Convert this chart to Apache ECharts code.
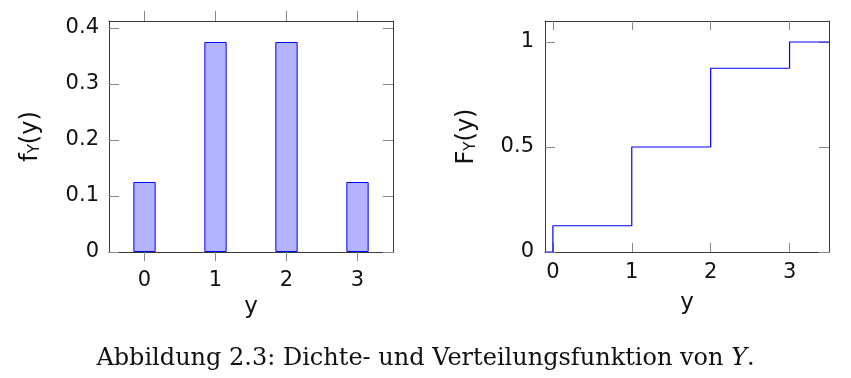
<!DOCTYPE html>
<html>
<head>
<meta charset="utf-8">
<script src="https://cdn.jsdelivr.net/npm/echarts@6/dist/echarts.min.js"></script>
<style>
html,body{margin:0;padding:0;background:#fff;}
#c{width:851px;height:378px;}
</style>
</head>
<body>
<div id="c"></div>
<script>
// ---- data ----
var categories = ['0', '1', '2', '3'];
var pmfValues = [0.125, 0.375, 0.375, 0.125];
var pmfTicks = [0, 0.1, 0.2, 0.3, 0.4];
var cdfX = [-0.1, 0, 1, 2, 3, 3.5];
var cdfY = [0, 0.125, 0.5, 0.875, 1, 1];
var cdfXTicks = [0, 1, 2, 3];
var cdfYTicks = [0, 0.5, 1];
var captionMain = 'Abbildung 2.3: Dichte- und Verteilungsfunktion von ';
var captionVar = 'Y';

var FONT = 'DejaVu Sans';
var frameColor = '#3a3a3a';
var tickColor = '#8a8a8a';
var labelStyle = {color: '#111', fontFamily: FONT, fontSize: 21};

function fmt(v) { return String(Math.round(v * 1000) / 1000); }

function nameRich() {
  return {
    a: {fontFamily: FONT, fontSize: 24, color: '#111'},
    s: {fontFamily: FONT, fontSize: 15, color: '#111', padding: [9, 0, 0, 0]}
  };
}

var chart = echarts.init(document.getElementById('c'), null, {renderer: 'canvas'});

var option = {
  animation: false,
  backgroundColor: '#fff',
  grid: [
    {left: 109, top: 21, width: 284, height: 231},
    {left: 545, top: 21, width: 284, height: 231}
  ],
  xAxis: [
    { // left bottom
      type: 'category', gridIndex: 0, data: categories, position: 'bottom',
      boundaryGap: true,
      axisLine: {show: true, onZero: false, lineStyle: {color: frameColor, width: 1}},
      axisTick: {show: true, alignWithLabel: true, inside: false, length: 9, lineStyle: {color: tickColor}},
      axisLabel: Object.assign({margin: 18}, labelStyle),
      splitLine: {show: false},
      name: 'y', nameLocation: 'middle', nameGap: 38,
      nameTextStyle: {fontFamily: FONT, fontSize: 23, color: '#111'}
    },
    { // left top
      type: 'category', gridIndex: 0, data: categories, position: 'top',
      boundaryGap: true,
      axisLine: {show: true, onZero: false, lineStyle: {color: frameColor, width: 1}},
      axisTick: {show: true, alignWithLabel: true, inside: false, length: 10, lineStyle: {color: tickColor}},
      axisLabel: {show: false},
      splitLine: {show: false}
    },
    { // right bottom
      type: 'value', gridIndex: 1, min: -0.1, max: 3.5, position: 'bottom',
      axisLine: {show: true, onZero: false, lineStyle: {color: frameColor, width: 1}},
      axisTick: {show: true, inside: true, length: 9, customValues: cdfXTicks, lineStyle: {color: tickColor}},
      axisLabel: Object.assign({margin: 10, customValues: cdfXTicks, formatter: fmt}, labelStyle),
      splitLine: {show: false},
      name: 'y', nameLocation: 'middle', nameGap: 40,
      nameTextStyle: {fontFamily: FONT, fontSize: 23, color: '#111'}
    },
    { // right top
      type: 'value', gridIndex: 1, min: -0.1, max: 3.5, position: 'top',
      axisLine: {show: true, onZero: false, lineStyle: {color: frameColor, width: 1}},
      axisTick: {show: true, inside: true, length: 9, customValues: cdfXTicks, lineStyle: {color: tickColor}},
      axisLabel: {show: false, customValues: cdfXTicks},
      splitLine: {show: false}
    }
  ],
  yAxis: [
    { // left
      type: 'value', gridIndex: 0, min: 0, max: 0.4125, position: 'left',
      axisLine: {show: true, onZero: false, lineStyle: {color: frameColor, width: 1}},
      axisTick: {show: true, inside: true, length: 10, customValues: pmfTicks, lineStyle: {color: tickColor}},
      axisLabel: Object.assign({margin: 10, customValues: pmfTicks, formatter: fmt}, labelStyle),
      splitLine: {show: false},
      name: '{a|f}{s|Y}{a|(y)}', nameLocation: 'middle', nameRotate: 90, nameGap: 66,
      nameTextStyle: {rich: nameRich()}
    },
    { // left mirror
      type: 'value', gridIndex: 0, min: 0, max: 0.4125, position: 'right',
      axisLine: {show: true, onZero: false, lineStyle: {color: frameColor, width: 1}},
      axisTick: {show: true, inside: true, length: 10, customValues: pmfTicks, lineStyle: {color: tickColor}},
      axisLabel: {show: false, customValues: pmfTicks},
      splitLine: {show: false}
    },
    { // right
      type: 'value', gridIndex: 1, min: 0, max: 1.1, position: 'left',
      axisLine: {show: true, onZero: false, lineStyle: {color: frameColor, width: 1}},
      axisTick: {show: true, inside: true, length: 10, customValues: cdfYTicks, lineStyle: {color: tickColor}},
      axisLabel: Object.assign({margin: 11, customValues: cdfYTicks, formatter: fmt}, labelStyle),
      splitLine: {show: false},
      name: '{a|F}{s|Y}{a|(y)}', nameLocation: 'middle', nameRotate: 90, nameGap: 66,
      nameTextStyle: {rich: nameRich()}
    },
    { // right mirror
      type: 'value', gridIndex: 1, min: 0, max: 1.1, position: 'right',
      axisLine: {show: true, onZero: false, lineStyle: {color: frameColor, width: 1}},
      axisTick: {show: true, inside: true, length: 10, customValues: cdfYTicks, lineStyle: {color: tickColor}},
      axisLabel: {show: false, customValues: cdfYTicks},
      splitLine: {show: false}
    }
  ],
  series: [
    {
      type: 'bar', xAxisIndex: 0, yAxisIndex: 0,
      data: pmfValues, barWidth: '31.4%',
      itemStyle: {color: '#b3b3ff', borderColor: '#0000ff', borderWidth: 1}
    },
    {
      type: 'line', xAxisIndex: 2, yAxisIndex: 2,
      data: cdfX.map(function (x, i) { return [x, cdfY[i]]; }),
      step: 'end', showSymbol: false, symbol: 'none',
      lineStyle: {color: '#0000ff', width: 1.2}
    }
  ],
  graphic: [
    {
      type: 'text', left: 'center', top: 347,
      style: {
        text: '{r|' + captionMain + '}{i|' + captionVar + '}{r|.}',
        rich: {
          r: {fontFamily: 'DejaVu Serif', fontSize: 24, fill: '#111', color: '#111'},
          i: {fontFamily: 'DejaVu Serif', fontStyle: 'italic', fontSize: 24, fill: '#111', color: '#111'}
        }
      }
    }
  ]
};
chart.setOption(option);
</script>
</body>
</html>
